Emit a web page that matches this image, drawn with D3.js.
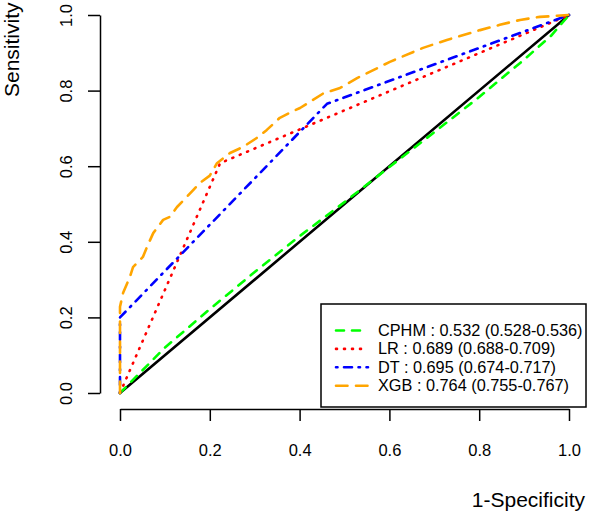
<!DOCTYPE html>
<html>
<head>
<meta charset="utf-8">
<script src="https://cdn.jsdelivr.net/npm/d3@7"></script>
<style>
  body { margin: 0; background: #fff; }
  svg { display: block; font-family: "Liberation Sans", Arial, sans-serif; }
  .axis path, .axis line { stroke: #000; stroke-width: 1.5px; }
  .axis text { font-size: 16.5px; fill: #000; }
  .curve { fill: none; stroke-width: 2.6px; stroke-linecap: round; stroke-linejoin: round; }
</style>
</head>
<body>
<script>
// ROC curves: [1-specificity, sensitivity]
const cphmPoints = [[0, 0], [0.1, 0.12], [0.2, 0.222], [0.3, 0.32], [0.4, 0.415], [0.5, 0.505],
  [0.6, 0.598], [0.7, 0.69], [0.8, 0.783], [0.9, 0.882], [0.96, 0.945], [1, 1]];
const lrPoints = [[0, 0], [0.223, 0.608], [1, 1]];
const dtPoints = [[0, 0], [0, 0.2], [0.461, 0.765], [1, 1]];
const xgbPoints = [[0, 0], [0, 0.228], [0.007, 0.265], [0.022, 0.307], [0.029, 0.333], [0.051, 0.36],
  [0.06, 0.386], [0.074, 0.423], [0.096, 0.458], [0.111, 0.466], [0.127, 0.492], [0.149, 0.519],
  [0.163, 0.537], [0.178, 0.556], [0.2, 0.575], [0.216, 0.608], [0.245, 0.635], [0.274, 0.651],
  [0.305, 0.675], [0.327, 0.696], [0.356, 0.728], [0.379, 0.742], [0.401, 0.754], [0.452, 0.792],
  [0.49, 0.807], [0.528, 0.833], [0.601, 0.876], [0.675, 0.913], [0.728, 0.934], [0.802, 0.96],
  [0.846, 0.974], [0.891, 0.987], [0.935, 0.995], [1, 1]];

const seriesNames = ["CPHM : 0.532 (0.528-0.536)", "LR : 0.689 (0.688-0.709)",
  "DT : 0.695 (0.674-0.717)", "XGB : 0.764 (0.755-0.767)"];
const seriesColors = ["#00ff00", "#ff0000", "#0000ff", "#ffa500"];
const seriesDash = ["8,8", "1,7", "1.5,6.5,8,6.5", "11.5,8.5"];
const tickValues = [0, 0.2, 0.4, 0.6, 0.8, 1.0];

const W = 590, H = 513;
const svg = d3.select("body").append("svg").attr("width", W).attr("height", H);

const x = d3.scaleLinear().domain([0, 1]).range([120, 569]);
const y = d3.scaleLinear().domain([0, 1]).range([393, 15]);

// axes (R style, detached from the plot region)
const xAxis = svg.append("g").attr("class", "axis")
  .attr("transform", "translate(0,409)")
  .call(d3.axisBottom(x).tickValues(tickValues).tickSize(12).tickSizeOuter(0)
    .tickFormat(d3.format(".1f")));
xAxis.selectAll("text").attr("dy", null).attr("y", 47);

const yAxis = svg.append("g").attr("class", "axis")
  .attr("transform", "translate(100,0)")
  .call(d3.axisLeft(y).tickValues(tickValues).tickSize(12).tickSizeOuter(0)
    .tickFormat(d3.format(".1f")));
yAxis.selectAll("text")
  .attr("x", null).attr("dy", null)
  .attr("text-anchor", "middle")
  .attr("transform", "translate(-28,0) rotate(-90)");

// axis titles
svg.append("text")
  .attr("transform", "translate(18.5,97) rotate(-90)")
  .attr("font-size", 21).text("Sensitivity");
svg.append("text")
  .attr("x", 585).attr("y", 507).attr("text-anchor", "end")
  .attr("font-size", 21).text("1-Specificity");

const line = d3.line().x(d => x(d[0])).y(d => y(d[1]));

// reference diagonal
svg.append("path").attr("class", "curve")
  .attr("d", line([[0, 0], [1, 1]]))
  .attr("stroke", "#000");

const allSeries = [cphmPoints, lrPoints, dtPoints, xgbPoints];
allSeries.forEach((pts, i) => {
  svg.append("path").attr("class", "curve")
    .attr("d", line(pts))
    .attr("stroke", seriesColors[i])
    .attr("stroke-dasharray", seriesDash[i]);
});

// legend
const legend = svg.append("g");
legend.append("rect")
  .attr("x", 321).attr("y", 304).attr("width", 265).attr("height", 103)
  .attr("fill", "#fff").attr("stroke", "#000").attr("stroke-width", 1.5);

seriesNames.forEach((name, i) => {
  const by = 336 + i * 18.4;
  legend.append("line").attr("class", "curve")
    .attr("x1", 336).attr("x2", 368)
    .attr("y1", by - 5.5).attr("y2", by - 5.5)
    .attr("stroke", seriesColors[i])
    .attr("stroke-dasharray", seriesDash[i]);
  legend.append("text")
    .attr("x", 378).attr("y", by)
    .attr("font-size", 16.3).text(name);
});
</script>
</body>
</html>
